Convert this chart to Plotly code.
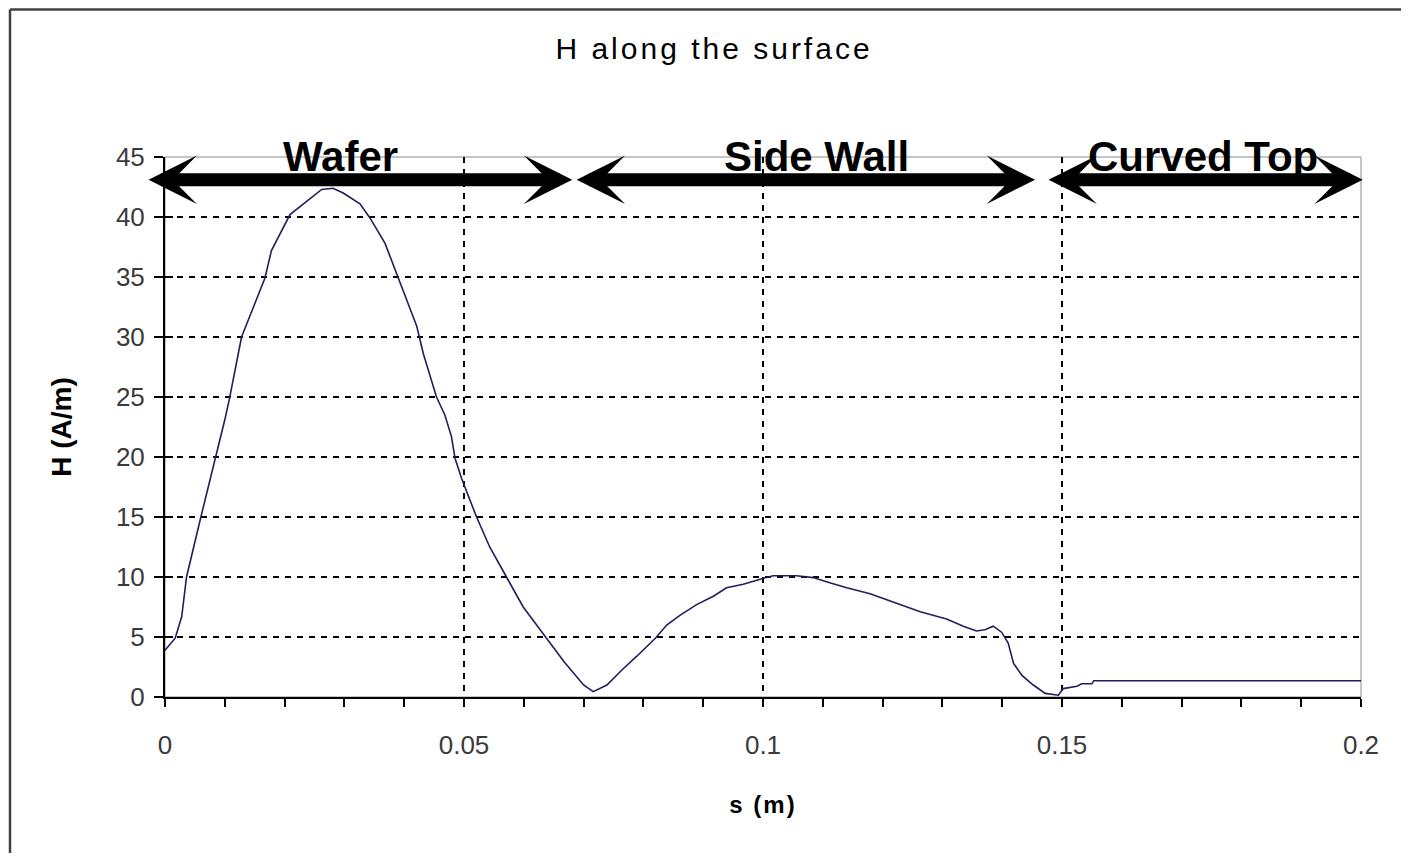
import plotly.graph_objects as go

# ---- data ----
s_m = [0.0000, 0.0017, 0.0028, 0.0036, 0.0060, 0.0070, 0.0085, 0.0100, 0.0108, 0.0128,
       0.0167, 0.0178, 0.0209, 0.0231, 0.0262, 0.0281, 0.0298, 0.0326, 0.0343, 0.0368,
       0.0390, 0.0421, 0.0432, 0.0454, 0.0468, 0.0479, 0.0485, 0.0496, 0.0521, 0.0543,
       0.0571, 0.0599, 0.0638, 0.0668, 0.0700, 0.0716, 0.0739, 0.0764, 0.0789, 0.0820,
       0.0839, 0.0861, 0.0889, 0.0917, 0.0939, 0.0967, 0.1001, 0.1017, 0.1056, 0.1084,
       0.1106, 0.1140, 0.1179, 0.1218, 0.1263, 0.1307, 0.1335, 0.1357, 0.1371, 0.1385,
       0.1399, 0.1410, 0.1419, 0.1433, 0.1452, 0.1472, 0.1494, 0.1502, 0.1525, 0.1533,
       0.1550, 0.1553, 0.2000]
H_Am = [3.9, 4.9, 6.7, 10.0, 15.0, 17.0, 19.9, 23.1, 24.9, 30.0,
        34.9, 37.2, 40.2, 41.1, 42.3, 42.4, 42.0, 41.1, 39.9, 37.8,
        35.0, 30.9, 28.6, 25.0, 23.5, 21.7, 19.9, 18.2, 15.0, 12.5,
        10.0, 7.5, 4.9, 2.9, 1.0, 0.45, 1.0, 2.25, 3.4, 4.9,
        6.0, 6.8, 7.7, 8.4, 9.1, 9.4, 9.9, 10.1, 10.1, 9.95,
        9.6, 9.1, 8.6, 7.9, 7.1, 6.5, 5.9, 5.5, 5.6, 5.9,
        5.4, 4.5, 2.8, 1.8, 1.0, 0.3, 0.15, 0.7, 0.9, 1.1,
        1.1, 1.36, 1.36]

region_names = ["Wafer", "Side Wall", "Curved Top"]
region_start = [-0.003, 0.0686, 0.1475]
region_end = [0.0681, 0.1455, 0.2003]
region_label_x = [0.0293, 0.1090, 0.1736]
arrow_level = 43.1
label_level = 45.0

x_tickvals = [round(i * 0.01, 2) for i in range(21)]
x_ticktext = ["0" if v == 0 else (f"{v:g}" if round(v * 100) % 5 == 0 else "") for v in x_tickvals]
x_gridvals = [0.05, 0.1, 0.15]
y_tickvals = list(range(0, 46, 5))
y_gridvals = list(range(5, 41, 5))

# page body has an 8px margin on every side; figure sized to fit the 1409x861 window
W, H = 1393, 845
L, T = 157, 149
pw, ph = 1196, 540
R, B = W - L - pw, H - T - ph

FONT = "Liberation Sans, Arial, sans-serif"

fig = go.Figure()
fig.add_trace(go.Scatter(x=s_m, y=H_Am, mode="lines",
                         line=dict(color="#1f1f5e", width=1.6),
                         showlegend=False, hoverinfo="x+y"))

tickfont = dict(family=FONT, size=26, color="#3a3a3a")

fig.update_layout(
    width=W, height=H,
    margin=dict(l=L, r=R, t=T, b=B),
    paper_bgcolor="white", plot_bgcolor="white",
    title=dict(text='<span style="letter-spacing:3px">H along the surface</span>',
               x=(714 - 8) / W, xanchor="center", y=1 - (48 - 8) / H, yanchor="middle",
               yref="container", xref="container",
               font=dict(family=FONT, size=30, color="black")),
    xaxis=dict(range=[0, 0.2], tickmode="array", tickvals=x_tickvals, ticktext=x_ticktext,
               ticks="outside", ticklen=8, tickwidth=1.5, tickcolor="black",
               showline=True, linecolor="black", linewidth=1.5,
               showgrid=False, zeroline=False, tickfont=tickfont,
               ticklabelstandoff=16,
               minor=dict(tickmode="array", tickvals=x_gridvals, showgrid=True,
                          gridcolor="black", griddash="6px,6px", gridwidth=1.5, ticks=""),
               title=dict(text='<b><span style="letter-spacing:2px">s (m)</span></b>',
                          font=dict(family=FONT, size=24, color="black"),
                          standoff=37)),
    yaxis=dict(range=[0, 45], tickmode="array", tickvals=y_tickvals,
               ticks="outside", ticklen=9, tickwidth=1.5, tickcolor="black",
               showline=True, linecolor="black", linewidth=2,
               showgrid=False, zeroline=False, tickfont=tickfont,
               ticklabelstandoff=4,
               minor=dict(tickmode="array", tickvals=y_gridvals, showgrid=True,
                          gridcolor="black", griddash="6px,6px", gridwidth=1.5,
                          ticks="inside", ticklen=8, tickwidth=1.5, tickcolor="black"),
               title=dict(text="<b>H (A/m)</b>",
                          font=dict(family=FONT, size=28, color="black"),
                          standoff=36)),
)

# plot-area frame (grey top/right)
fig.add_shape(type="rect", xref="paper", yref="paper", x0=0, x1=1, y0=0, y1=1,
              line=dict(color="#8c8c8c", width=1), layer="below")
# outer chart border: only its left and top edges are inside the picture
border_x = (2 - L) / pw
border_y = 1 + (T - 1.5) / ph
fig.add_shape(type="line", xref="paper", yref="paper",
              x0=border_x, x1=border_x, y0=-(B + 30) / ph, y1=border_y,
              line=dict(color="#404040", width=2.5), layer="above")
fig.add_shape(type="line", xref="paper", yref="paper",
              x0=border_x, x1=(W - L + 30) / pw, y0=border_y, y1=border_y,
              line=dict(color="#404040", width=2.5), layer="above")

# region arrows and labels
for name, x0, x1, lx in zip(region_names, region_start, region_end, region_label_x):
    fig.add_annotation(x=x1, y=arrow_level, ax=x0, ay=arrow_level,
                       xref="x", yref="y", axref="x", ayref="y",
                       text="", showarrow=True, arrowside="end+start",
                       arrowhead=3, startarrowhead=3, arrowsize=0.62, startarrowsize=0.62,
                       arrowwidth=13, arrowcolor="black", standoff=0, startstandoff=0)
    fig.add_annotation(x=lx, y=label_level, xref="x", yref="y", text="<b>" + name + "</b>",
                       showarrow=False,
                       font=dict(family=FONT, size=42, color="black"),
                       xanchor="center", yanchor="middle", yshift=1)

fig.write_html("out.html")
